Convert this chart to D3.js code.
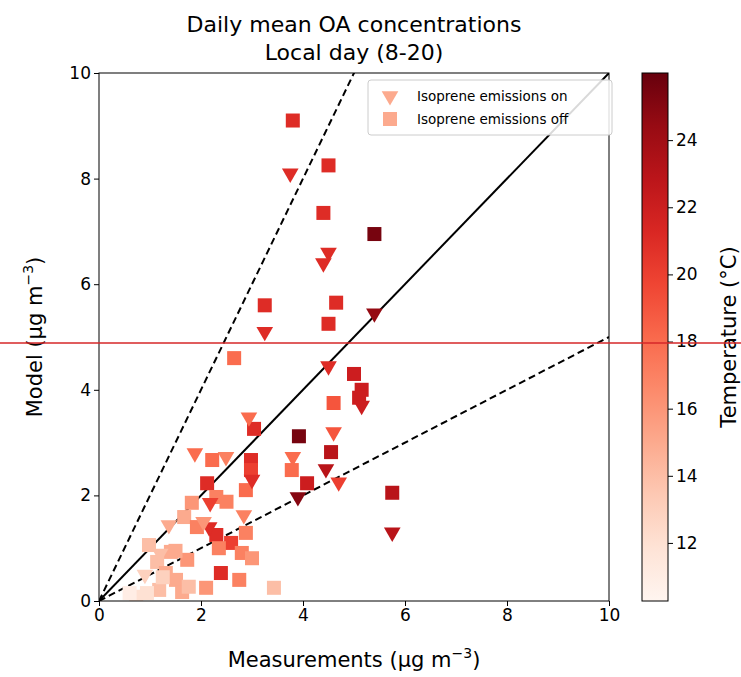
<!DOCTYPE html>
<html><head><meta charset="utf-8">
<script src="https://cdn.jsdelivr.net/npm/d3@7"></script>
<style>body{margin:0;background:#fff;font-family:"DejaVu Sans",sans-serif} svg text{font-family:"DejaVu Sans",sans-serif}</style>
</head><body><div id="main"></div>
<script>
// [measurement, model, temperature]
var isopreneOn = [
 [3.75,8.1,21],[4.5,6.6,21],[4.4,6.4,21],[5.4,5.45,24.5],[3.25,5.1,21],[4.5,4.45,21],
 [5.15,3.7,22],[4.6,3.2,19],[3.8,2.73,18],[3.9,1.97,25],[4.45,2.5,23],[4.7,2.25,20],
 [5.75,1.3,23],[2.94,3.48,18],[1.88,2.8,18],[2.49,2.73,17],[3.0,2.3,21],[2.18,1.86,20],
 [2.84,1.63,17],[1.37,1.44,15],[2.16,1.4,21],[2.05,1.5,16],[1.2,0.9,14],[0.9,0.5,13]
]
var isopreneOff = [
 [3.8,9.1,21],[4.5,8.25,21],[4.4,7.35,21],[5.4,6.95,25.5],[3.25,5.6,21],[4.65,5.65,21],
 [4.5,5.25,21],[2.65,4.6,18],[5.0,4.3,22],[5.15,4.0,22],[5.1,3.85,22],[4.6,3.75,19],
 [3.92,3.12,25.5],[4.55,2.82,23],[4.08,2.23,22],[5.75,2.05,23],[3.04,3.26,21],
 [2.98,2.67,21],[2.98,2.48,20],[2.22,2.67,18],[2.88,2.1,18],[3.78,2.48,18],
 [2.12,2.23,21],[1.82,1.86,16],[2.3,1.97,17],[2.5,1.88,17],[1.67,1.59,15],[1.92,1.4,17],
 [2.3,1.25,21],[2.59,1.1,20],[2.88,1.29,17],[2.35,1.0,17],[2.8,0.91,17],[3.0,0.81,16],
 [0.98,1.06,14],[1.41,0.93,15],[1.73,0.78,16],[1.14,0.74,14],[1.31,0.53,15],[1.51,0.4,15],
 [2.39,0.53,21],[2.75,0.4,17],[3.43,0.25,14],[2.1,0.25,16],[1.18,0.21,14],[1.63,0.17,15],
 [0.73,0.08,12],[0.94,0.15,12],[1.76,0.27,14],[1.5,0.95,15],[1.25,0.45,13],[0.6,0.15,11]
]
var axisTicks = [0,2,4,6,8,10]
var cbTicks = [12,14,16,18,20,22,24]
var tempRange = [10.27,26]
var lineSlopes = [2,1,0.5]

var W=741,H=677
var svg=d3.select("#main").append("svg").attr("width",W).attr("height",H)
var x=d3.scaleLinear().domain([0,10]).range([99,609])
var y=d3.scaleLinear().domain([0,10]).range([601,73])
var color=d3.scaleSequential(d3.interpolateReds).domain(tempRange)

svg.append("defs").append("clipPath").attr("id","clip").append("rect")
  .attr("x",99).attr("y",73).attr("width",510).attr("height",528)
var plot=svg.append("g").attr("clip-path","url(#clip)")

lineSlopes.forEach(function(s){
  plot.append("line").attr("x1",x(0)).attr("y1",y(0)).attr("x2",x(10)).attr("y2",y(10*s))
    .attr("stroke","#000").attr("stroke-width",2).attr("stroke-dasharray",s==1?null:"7,4")
})

var sq=14, tri=d3.symbol().type(d3.symbolTriangle).size(120)
plot.selectAll(".off").data(isopreneOff).enter().append("rect")
  .attr("x",d=>x(d[0])-sq/2).attr("y",d=>y(d[1])-sq/2).attr("width",sq).attr("height",sq)
  .attr("fill",d=>color(d[2]))
plot.selectAll(".on").data(isopreneOn).enter().append("path").attr("d",tri)
  .attr("transform",d=>"translate("+x(d[0])+","+y(d[1])+") rotate(180)")
  .attr("fill",d=>color(d[2]))

var ax=svg.append("g").attr("transform","translate(0,601)").call(d3.axisBottom(x).tickValues(axisTicks).tickSize(5))
var ay=svg.append("g").attr("transform","translate(99,0)").call(d3.axisLeft(y).tickValues(axisTicks).tickSize(5))
;[ax,ay].forEach(function(a){a.attr("font-size",17).attr("font-family",null);a.selectAll("text").attr("fill","#000");a.select(".domain").remove()})
svg.append("rect").attr("x",99).attr("y",73).attr("width",510).attr("height",528).attr("fill","none").attr("stroke","#000")

svg.append("text").attr("x",354).attr("y",32).attr("text-anchor","middle").attr("font-size",22).text("Daily mean OA concentrations")
svg.append("text").attr("x",354).attr("y",60).attr("text-anchor","middle").attr("font-size",22).text("Local day (8-20)")
var xl=svg.append("text").attr("x",354).attr("y",667).attr("text-anchor","middle").attr("font-size",21).text("Measurements (µg m")
xl.append("tspan").attr("dy",-9).attr("font-size",14).text("−3")
xl.append("tspan").attr("dy",9).text(")")
var yl=svg.append("text").attr("transform","translate(42,337) rotate(-90)").attr("text-anchor","middle").attr("font-size",21).text("Model (µg m")
yl.append("tspan").attr("dy",-9).attr("font-size",14).text("−3")
yl.append("tspan").attr("dy",9).text(")")

// legend
var lg=svg.append("g")
lg.append("rect").attr("x",368).attr("y",80).attr("width",244).attr("height",55).attr("rx",3)
  .attr("fill","#fff").attr("fill-opacity",0.85).attr("stroke","#ccc")
lg.append("path").attr("d",tri).attr("transform","translate(390,96) rotate(180)").attr("fill",color(15))
lg.append("rect").attr("x",383).attr("y",112).attr("width",14).attr("height",14).attr("fill",color(15))
lg.append("text").attr("x",417).attr("y",101).attr("font-size",13.5).text("Isoprene emissions on")
lg.append("text").attr("x",417).attr("y",124).attr("font-size",13.5).text("Isoprene emissions off")

// colorbar
var cy=d3.scaleLinear().domain(tempRange).range([601,73])
var grad=svg.select("defs").append("linearGradient").attr("id","cb").attr("x1",0).attr("x2",0).attr("y1",1).attr("y2",0)
d3.range(0,1.01,0.1).forEach(function(t){
  grad.append("stop").attr("offset",t).attr("stop-color",color(tempRange[0]+t*(tempRange[1]-tempRange[0])))
})
svg.append("rect").attr("x",642).attr("y",73).attr("width",26).attr("height",528).attr("fill","url(#cb)").attr("stroke","#000")
var ac=svg.append("g").attr("transform","translate(668,0)").call(d3.axisRight(cy).tickValues(cbTicks).tickSize(5))
ac.select(".domain").remove(); ac.attr("font-size",17).attr("font-family",null)
svg.append("text").attr("transform","translate(736,337) rotate(-90)").attr("text-anchor","middle").attr("font-size",21).text("Temperature (°C)")

// stray horizontal red line in the reference
svg.append("line").attr("x1",0).attr("x2",W).attr("y1",343).attr("y2",343).attr("stroke","#d62728").attr("stroke-width",1.5)
</script></body></html>
